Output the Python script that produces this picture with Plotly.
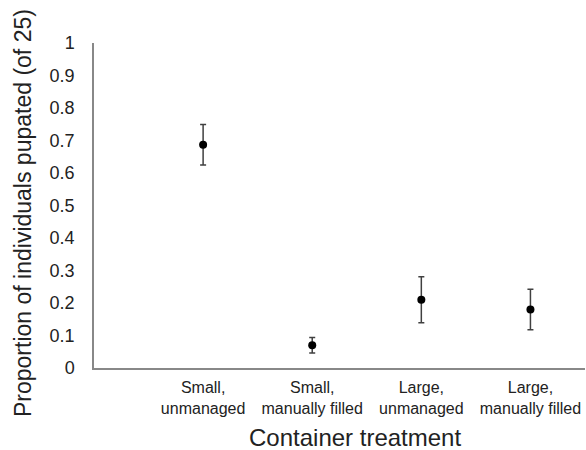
import plotly.graph_objects as go

categories = ["Small,<br>unmanaged", "Small,<br>manually filled", "Large,<br>unmanaged", "Large,<br>manually filled"]
proportion = [0.687, 0.070, 0.210, 0.180]
error = [0.062, 0.024, 0.071, 0.062]
y_ticks = [0, 0.1, 0.2, 0.3, 0.4, 0.5, 0.6, 0.7, 0.8, 0.9, 1]

positions = list(range(1, len(categories) + 1))

FONT = "Liberation Sans, Arial, sans-serif"

fig = go.Figure()
fig.add_trace(go.Scatter(
    x=positions, y=proportion, mode="markers",
    marker=dict(color="black", size=8),
    error_y=dict(type="data", array=error, visible=True, color="#404040", thickness=1.5, width=3),
    showlegend=False,
))

fig.update_layout(
    width=586, height=450,
    margin=dict(l=94, r=1, t=43, b=82),
    plot_bgcolor="white", paper_bgcolor="white",
    font=dict(family=FONT, color="#222222"),
    xaxis=dict(
        range=[0, 4.5], tickvals=positions, ticktext=categories,
        showgrid=False, zeroline=False, showline=True, linecolor="#888888", linewidth=1.5,
        ticks="", tickfont=dict(size=16, family=FONT, color="#222222"),
        ticklabelstandoff=4,
    ),
    yaxis=dict(
        range=[0, 1], tickvals=y_ticks, ticktext=[("%g" % v) for v in y_ticks],
        showgrid=False, zeroline=False, showline=True, linecolor="#888888", linewidth=1.5,
        ticks="", tickfont=dict(size=18, family=FONT, color="#222222"),
        ticklabelstandoff=14,
    ),
    annotations=[
        dict(text="Container treatment", xref="paper", yref="paper",
             x=(355 - 94) / 491, y=-(437 - 368) / 325, xanchor="center", yanchor="middle",
             showarrow=False, font=dict(size=24, family=FONT, color="#222222")),
        dict(text="Proportion of individuals pupated (of 25)", xref="paper", yref="paper",
             x=-(94 - 23) / 491, y=(368 - 213) / 325, xanchor="center", yanchor="middle",
             textangle=-90, showarrow=False, font=dict(size=23, family=FONT, color="#222222")),
    ],
)

fig.write_html("out.html", config={"displayModeBar": False},
               post_script="document.body.style.margin='0px';document.body.style.overflow='hidden';")
